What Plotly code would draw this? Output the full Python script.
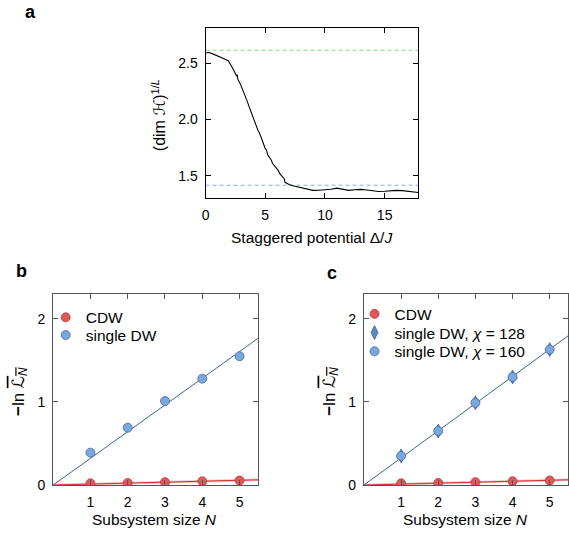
import plotly.graph_objects as go
import math

# ---------------- data ----------------
# panel a
delta = [0.0, 0.2, 0.5, 1.0, 1.5, 1.9, 2.0, 2.2, 2.4, 2.6, 2.65, 2.7, 2.9, 3.1, 3.3, 3.5,
         3.7, 3.9, 4.0, 4.2, 4.4, 4.5, 4.6, 4.8, 5.0, 5.1, 5.2, 5.4, 5.5, 5.6, 5.8, 6.0,
         6.1, 6.2, 6.4, 6.5, 6.6, 6.65, 6.8, 7.0, 7.3, 7.5, 8.0, 8.5, 9.0, 9.5, 10.0,
         10.5, 11.0, 11.5, 12.0, 12.5, 13.0, 13.5, 14.0, 14.5, 15.0, 15.5, 16.0, 16.5,
         17.0, 17.5, 17.8]
dimH = [2.59, 2.60, 2.59, 2.57, 2.545, 2.525, 2.51, 2.47, 2.43, 2.385, 2.40, 2.36, 2.32,
        2.27, 2.22, 2.16, 2.10, 2.04, 2.02, 1.96, 1.90, 1.885, 1.85, 1.80, 1.74, 1.73,
        1.685, 1.66, 1.64, 1.61, 1.585, 1.56, 1.545, 1.52, 1.49, 1.48, 1.47, 1.44, 1.43,
        1.42, 1.41, 1.405, 1.39, 1.375, 1.368, 1.37, 1.372, 1.378, 1.388, 1.378, 1.368,
        1.374, 1.377, 1.372, 1.365, 1.358, 1.36, 1.365, 1.368, 1.366, 1.36, 1.353, 1.35]
upper_ref = (3 + math.sqrt(5)) / 2   # green dashed reference
lower_ref = math.sqrt(2)             # blue dashed reference
a_xrange = [0, 17.8]
a_yrange = [1.30, 2.82]
a_xticks = [0, 5, 10, 15]
a_yticks = [1.5, 2.0, 2.5]

# panels b and c
N = [1, 2, 3, 4, 5]
b_cdw = [0.02, 0.025, 0.035, 0.045, 0.055]
b_dw = [0.39, 0.69, 1.01, 1.28, 1.55]
c_cdw = [0.02, 0.025, 0.035, 0.045, 0.055]
c_dw128 = [0.35, 0.65, 0.99, 1.30, 1.63]
c_dw160 = [0.35, 0.65, 0.99, 1.30, 1.63]
bc_xrange = [0, 5.5]
bc_yrange = [0, 2.3]
bc_xticks = [1, 2, 3, 4, 5]
bc_yticks = [0, 1, 2]


def slope0(x, y):
    return sum(a * b for a, b in zip(x, y)) / sum(a * a for a in x)


FONT = "Liberation Sans, Arial, sans-serif"
RED = "#e05858"
RED_E = "#b83a3a"
BLUE = "#7aa7dc"
BLUE_E = "#44699c"
BLUE_L = "#3f6598"

W, H = 569, 542


def px(x):
    return x / W


def py(y):
    return 1 - y / H


fig = go.Figure()

# ---- panel a ----
fig.add_trace(go.Scatter(x=a_xrange, y=[upper_ref] * 2, mode="lines",
                         line=dict(color="#93cc9f", width=1, dash="4px,3px"),
                         showlegend=False, xaxis="x", yaxis="y"))
fig.add_trace(go.Scatter(x=a_xrange, y=[lower_ref] * 2, mode="lines",
                         line=dict(color="#7fb4ee", width=1, dash="4px,3px"),
                         showlegend=False, xaxis="x", yaxis="y"))
fig.add_trace(go.Scatter(x=delta, y=dimH, mode="lines",
                         line=dict(color="black", width=1.1),
                         showlegend=False, xaxis="x", yaxis="y"))


def fit_lines(xa, ya, s_r, s_b):
    fig.add_trace(go.Scatter(x=bc_xrange, y=[v * s_r for v in bc_xrange], mode="lines",
                             line=dict(color="rgba(230,120,120,0.45)", width=2.6),
                             showlegend=False, xaxis=xa, yaxis=ya))
    fig.add_trace(go.Scatter(x=bc_xrange, y=[v * s_r for v in bc_xrange], mode="lines",
                             line=dict(color="#c83030", width=1),
                             showlegend=False, xaxis=xa, yaxis=ya))
    fig.add_trace(go.Scatter(x=bc_xrange, y=[v * s_b for v in bc_xrange], mode="lines",
                             line=dict(color=BLUE_L, width=1),
                             showlegend=False, xaxis=xa, yaxis=ya))


circ_r = dict(color=RED, size=9, line=dict(color=RED_E, width=0.8))
circ_b = dict(color=BLUE, size=9, line=dict(color=BLUE_E, width=0.8))

# ---- panel b ----
fit_lines("x2", "y2", slope0(N, b_cdw), slope0(N, b_dw))
fig.add_trace(go.Scatter(x=N, y=b_cdw, mode="markers", name="CDW", marker=circ_r,
                         xaxis="x2", yaxis="y2", legend="legend"))
fig.add_trace(go.Scatter(x=N, y=b_dw, mode="markers", name="single DW", marker=circ_b,
                         xaxis="x2", yaxis="y2", legend="legend2"))

# ---- panel c ----
fit_lines("x3", "y3", slope0(N, c_cdw), slope0(N, c_dw160))
fig.add_trace(go.Scatter(x=N, y=c_cdw, mode="markers", name="CDW", marker=circ_r,
                         xaxis="x3", yaxis="y3", legend="legend3"))
fig.add_trace(go.Scatter(x=N, y=c_dw128, mode="markers", name="single DW, <i>χ</i> = 128",
                         marker=dict(symbol="diamond-tall", color="#5a88c4", size=10,
                                     line=dict(color=BLUE_E, width=0.8)),
                         xaxis="x3", yaxis="y3", legend="legend4"))
fig.add_trace(go.Scatter(x=N, y=c_dw160, mode="markers", name="single DW, <i>χ</i> = 160",
                         marker=circ_b, xaxis="x3", yaxis="y3", legend="legend5"))

tickfont = dict(family=FONT, size=14, color="black")


def ax(domain, rng, ticks, anchor, color, fmt=None):
    d = dict(domain=domain, range=rng, tickvals=ticks, anchor=anchor,
             showline=True, mirror="allticks", linecolor=color, linewidth=1,
             ticks="inside", ticklen=5, tickcolor=color, tickwidth=1,
             showgrid=False, zeroline=False, tickfont=tickfont, ticklabelstandoff=4)
    if fmt:
        d["tickformat"] = fmt
    return d


def leg(x, y):
    return dict(x=px(x), y=py(y), xanchor="left", yanchor="middle",
                bgcolor="rgba(0,0,0,0)", font=dict(family=FONT, size=15.5),
                itemwidth=30, borderwidth=0)


fig.update_layout(
    width=W, height=H, margin=dict(l=0, r=0, t=0, b=0),
    plot_bgcolor="white", paper_bgcolor="white",
    font=dict(family=FONT, size=14, color="black"),
    xaxis=ax([px(203), px(417)], a_xrange, a_xticks, "y", "black"),
    yaxis=ax([py(201), py(28)], a_yrange, a_yticks, "x", "black", ".1f"),
    xaxis2=ax([px(49.5), px(256)], bc_xrange, bc_xticks, "y2", "#555555"),
    yaxis2=ax([py(492.3), py(298.3)], bc_yrange, bc_yticks, "x2", "#555555"),
    xaxis3=ax([px(362.5), px(568.3)], bc_xrange, bc_xticks, "y3", "#555555"),
    yaxis3=ax([py(492.3), py(298.3)], bc_yrange, bc_yticks, "x3", "#555555"),
    legend=leg(42, 322.5),
    legend2=leg(42, 340.5),
    legend3=leg(353, 319),
    legend4=leg(353, 338),
    legend5=leg(353, 357),
)

ann = []


def txt(x, y, s, size=15, angle=0, xa="center", ya="middle"):
    ann.append(dict(x=px(x), y=py(y), xref="paper", yref="paper", text=s,
                    showarrow=False, textangle=angle, xanchor=xa, yanchor=ya,
                    font=dict(family=FONT, size=size, color="black")))


ylab_bc = ("<b>−</b>ln <span style='text-decoration:overline'>"
           "<span style='font-family:DejaVu Sans'>ℒ</span><sub><i>N</i></sub></span>")
txt(27, 12, "<b>a</b>", 18)
txt(18, 275, "<b>b</b>", 18)
txt(330, 277, "<b>c</b>", 18)
txt(156, 117, "(dim <span style='font-family:DejaVu Sans'>ℋ</span>)<sup>1/<i>L</i></sup>",
    16, angle=-90)
txt(310, 241, "Staggered potential Δ/<i>J</i>", 15.5)
txt(15, 397, ylab_bc, 17, angle=-90)
txt(328, 397, ylab_bc, 17, angle=-90)
txt(152, 527, "Subsystem size <i>N</i>", 15.5)
txt(465, 527, "Subsystem size <i>N</i>", 15.5)
fig.update_layout(annotations=ann)

fig.write_html("out.html", config={"displayModeBar": False},
               post_script="document.body.style.margin='0';")
